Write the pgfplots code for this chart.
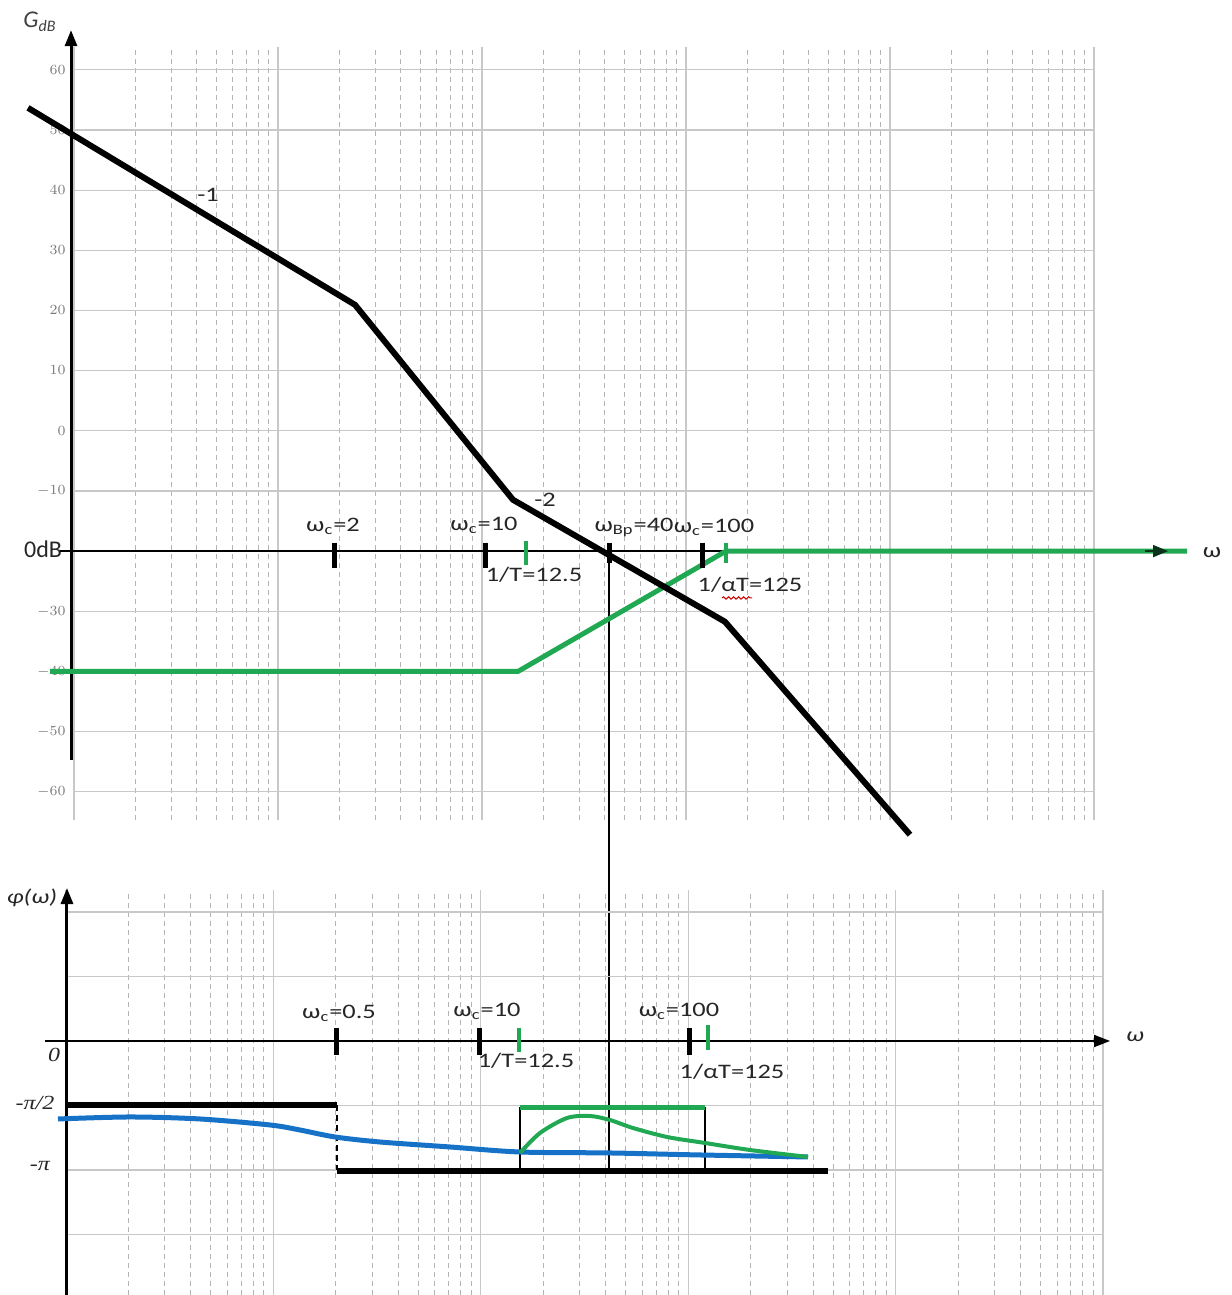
\documentclass[border=0pt]{standalone}
\usepackage{pgfplots}
\pgfplotsset{compat=1.18}
\usepackage{fontspec}
\setmainfont{Carlito}
\newfontfamily\lbl[FakeStretch=1.28]{Carlito}
\newfontfamily\srf[FakeStretch=1.2]{Liberation Serif}
\usetikzlibrary{arrows.meta,decorations.pathmorphing}
\definecolor{gr}{RGB}{32,168,82}
\definecolor{bl}{RGB}{22,114,198}
\definecolor{gridc}{RGB}{200,200,200}
\definecolor{gridd}{RGB}{180,180,180}
\definecolor{tk}{RGB}{120,120,120}
\newcommand{\lfont}{\lbl\fontsize{10.3}{12}\selectfont}
\begin{document}
\begin{tikzpicture}
\useasboundingbox (0,0) rectangle (615.5pt,647.5pt);
% tick labels of the gain plot (under the curves)
\begin{scope}[x=0.5pt,y=-0.5pt,yshift=647.5pt]
\foreach \v/\p in {60/70,50/130,40/190,30/250,20/310,10/370,0/431,-10/491,-30/612,-40/672,-50/732,-60/792}
  \node[anchor=east, text=tk, font=\fontsize{7.5}{8}\selectfont, inner sep=0pt] at (66,\p) {$\v$};
\node[font=\fontsize{12}{14}\selectfont, text=black!85] at (43,549) {0dB};
\end{scope}

% ---------------- gain plot ----------------
\begin{axis}[scale only axis, xmode=log, xmin=0.1, xmax=10000,
  xtick={0.1,1,10,100,1000,10000},
  minor xtick={0.2,0.3,0.4,0.5,0.6,0.7,0.8,0.9,2,3,4,5,6,7,8,9,20,30,40,50,60,70,80,90,200,300,400,500,600,700,800,900,2000,3000,4000,5000,6000,7000,8000,9000},
  grid=both,
  major grid style={gridc, line width=0.6pt},
  minor grid style={gridd, line width=0.5pt, dash pattern=on 2.5pt off 2pt},
  major tick length=0pt, minor tick length=0pt,
  xticklabels={}, yticklabels={},
  axis line style={draw=none},
  clip=false,
  at={(37pt,237.5pt)}, anchor=south west, width=510pt, height=386.5pt,
  ymin=-64.7, ymax=63.8, ytick={-60,-50,-40,-30,-20,-10,0,10,20,30,40,50,60}]
\addplot[black, line width=1.5pt, -{Triangle[length=8pt,width=6pt]}] coordinates {(0.0967,-54.7) (0.0967,66.6)};
\addplot[black, line width=0.9pt] coordinates {(0.0854,-20) (157,-20)};
\addplot[black, line width=0.8pt] coordinates {(41.94,-20) (41.94,-122.8)};
\addplot[gr, line width=2.5pt] coordinates {(0.0763,-40) (15.02,-40) (157.0,-20) (28580,-20)};
\addplot[black!70!gr, line width=0.8pt, -{Triangle[length=7.5pt,width=6pt]}] coordinates {(17780,-20) (23070,-20)};
\addplot[black, line width=3pt] coordinates {(0.0595,53.68) (2.385,20.94) (14.19,-11.47) (155.2,-31.74) (1253,-67.14)};
% break-frequency marks
\addplot[black, line width=2.5pt] coordinates {(1.903,-18.6) (1.903,-22.8)};
\addplot[black, line width=2.5pt] coordinates {(10.46,-18.6) (10.46,-22.8)};
\addplot[black, line width=2.5pt] coordinates {(41.94,-18.6) (41.94,-22.0)};
\addplot[black, line width=2.5pt] coordinates {(119.8,-18.6) (119.8,-22.8)};
\addplot[gr, line width=2pt] coordinates {(16.43,-18.4) (16.43,-22.3)};
\addplot[gr, line width=2pt] coordinates {(157.0,-18.6) (157.0,-22.0)};
\end{axis}

% ---------------- phase plot ----------------
\begin{axis}[scale only axis, xmode=log, xmin=0.1, xmax=10000,
  xtick={0.1,1,10,100,1000,10000},
  minor xtick={0.2,0.3,0.4,0.5,0.6,0.7,0.8,0.9,2,3,4,5,6,7,8,9,20,30,40,50,60,70,80,90,200,300,400,500,600,700,800,900,2000,3000,4000,5000,6000,7000,8000,9000},
  grid=both,
  major grid style={gridc, line width=0.6pt},
  minor grid style={gridd, line width=0.5pt, dash pattern=on 2.5pt off 2pt},
  major tick length=0pt, minor tick length=0pt,
  xticklabels={}, yticklabels={},
  axis line style={draw=none},
  clip=false,
  at={(33pt,0pt)}, anchor=south west, width=518.5pt, height=202.5pt,
  ymin=-3.938, ymax=2.341, ytick={-3,-2,-1,0,1,2}]
\addplot[black, line width=0.9pt, -{Triangle[length=8pt,width=6pt]}] coordinates {(0.0792,0) (10810,0)};
\addplot[black, line width=1.5pt, -{Triangle[length=8pt,width=6pt]}] coordinates {(0.1011,-3.95) (0.1011,2.372)};
\addplot[black, line width=3pt] coordinates {(0.1011,-1) (2.026,-1)};
\addplot[black, line width=0.8pt, dash pattern=on 3pt off 2pt] coordinates {(2.026,-1) (2.026,-2)};
\addplot[black, line width=3pt] coordinates {(2.026,-2.02) (472.2,-2.02)};
\addplot[black, line width=0.8pt] coordinates {(15.45,-1.02) (15.45,-2)};
\addplot[black, line width=0.8pt] coordinates {(120.5,-1.02) (120.5,-2)};
\addplot[gr, line width=2.5pt] coordinates {(15.45,-1.03) (120.5,-1.03)};
\addplot[bl, line width=2.5pt, smooth] coordinates {(0.0915,-1.209) (0.2035,-1.178) (0.4427,-1.209) (0.963,-1.302) (1.344,-1.380) (1.982,-1.488) (3.266,-1.566) (7.104,-1.643) (15.45,-1.721) (41.97,-1.736) (114.0,-1.767) (378.2,-1.798)};
\addplot[gr, line width=2pt, smooth] coordinates {(15.45,-1.736) (19.30,-1.426) (26.04,-1.194) (33.61,-1.163) (41.97,-1.225) (54.18,-1.349) (79.05,-1.488) (120.5,-1.581) (198.6,-1.690) (378.2,-1.798)};
\addplot[black, line width=2.5pt] coordinates {(2.026,0.20) (2.026,-0.22)};
\addplot[black, line width=2.5pt] coordinates {(9.911,0.20) (9.911,-0.22)};
\addplot[black, line width=2.5pt] coordinates {(100.9,0.20) (100.9,-0.22)};
\addplot[gr, line width=2pt] coordinates {(15.29,0.20) (15.29,-0.17)};
\addplot[gr, line width=2pt] coordinates {(124.6,0.25) (124.6,-0.14)};
\end{axis}

% labels
\begin{scope}[x=0.5pt,y=-0.5pt,yshift=647.5pt]
\node[text=black!75, font=\fontsize{12}{14}\selectfont\itshape] at (40,22) {G\textsubscript{dB}};
\node[font=\lfont, text=black!85] at (208,195) {-1};
\node[font=\lfont, text=black!85] at (545,500) {-2};
\node[font=\lfont, text=black!85] at (333,526) {ω\textsubscript{c}=2};
\node[font=\lfont, text=black!85] at (484,525) {ω\textsubscript{c}=10};
\node[font=\lfont, text=black!85] at (634,527) {ω\textsubscript{Bp}=40};
\node[font=\lfont, text=black!85] at (714,527) {ω\textsubscript{c}=100};
\node[font=\lfont, text=black!85] at (534,575) {1/T=12.5};
\node[font=\lfont, text=black!85] at (750,585) {1/αT=125};
\draw[red!80!black, line width=0.5pt, decorate, decoration={snake, amplitude=0.6pt, segment length=2.5pt}] (722,598) -- (752,598);
\node[font=\lfont, text=black!85] at (1212,553) {ω};
% phase labels
\node[font=\lbl\fontsize{10}{12}\selectfont\itshape, text=black!85] at (32,898) {φ(ω)};
\node[font=\srf\fontsize{10}{12}\selectfont\itshape, text=black!85] at (54,1055) {0};
\node[font=\srf\fontsize{10}{12}\selectfont\itshape, text=black!85] at (35,1103) {-π/2};
\node[font=\srf\fontsize{10}{12}\selectfont\itshape, text=black!85] at (40,1166) {-π};
\node[font=\lfont, text=black!85] at (339,1013) {ω\textsubscript{c}=0.5};
\node[font=\lfont, text=black!85] at (487,1011) {ω\textsubscript{c}=10};
\node[font=\lfont, text=black!85] at (526,1061) {1/T=12.5};
\node[font=\lfont, text=black!85] at (679,1011) {ω\textsubscript{c}=100};
\node[font=\lfont, text=black!85] at (732,1072) {1/αT=125};
\node[font=\lbl\fontsize{10}{12}\selectfont\itshape, text=black!85] at (1135,1037) {ω};
\end{scope}
\end{tikzpicture}
\end{document}
